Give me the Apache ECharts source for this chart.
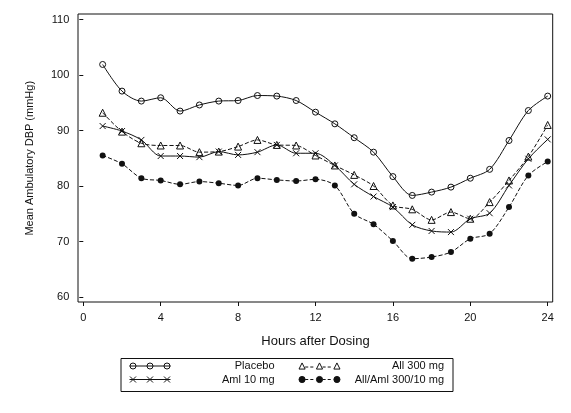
<!DOCTYPE html>
<html style="height: 100%">
<head>
    <meta charset="utf-8">
    <title>Mean Ambulatory DBP</title>
    <script src="https://cdn.jsdelivr.net/npm/echarts@6/dist/echarts.min.js"></script>
</head>
<body style="height: 100%; margin: 0; background: #fff">
<div id="container" style="width: 571px; height: 413px"></div>
<script type="text/javascript">
    // hours after dosing
    var hours = [1, 2, 3, 4, 5, 6, 7, 8, 9, 10, 11, 12, 13, 14, 15, 16, 17, 18, 19, 20, 21, 22, 23, 24];
    // mean DBP per group (mmHg)
    var placebo = [101.9, 97.1, 95.3, 95.9, 93.5, 94.6, 95.3, 95.4, 96.3, 96.2, 95.4, 93.3,
                   91.2, 88.7, 86.1, 81.7, 78.3, 78.9, 79.8, 81.4, 83.0, 88.2, 93.6, 96.2];
    var all300 = [93.2, 89.8, 87.7, 87.3, 87.3, 86.1, 86.2, 87.1, 88.3, 87.4, 87.3, 85.5,
                  83.7, 82.0, 80.0, 76.5, 75.8, 73.9, 75.3, 74.1, 77.1, 81.0, 85.3, 91.0];
    var aml10 = [90.8, 89.9, 88.3, 85.4, 85.4, 85.2, 86.2, 85.6, 86.1, 87.4, 85.9, 85.9,
                 83.7, 80.3, 78.1, 76.2, 73.0, 71.9, 71.7, 74.1, 75.1, 80.1, 84.9, 88.4];
    var combo = [85.5, 84.0, 81.4, 81.0, 80.3, 80.8, 80.5, 80.1, 81.4, 81.1, 80.9, 81.2,
                 80.1, 75.0, 73.1, 70.1, 66.9, 67.2, 68.1, 70.5, 71.4, 76.2, 81.9, 84.4];
    var xTicks = [0, 4, 8, 12, 16, 20, 24];
    var yTicks = [60, 70, 80, 90, 100, 110];

    var font = 'Liberation Sans';
    var ink = '#111';
    var clear = 'rgba(0,0,0,0)';

    function pairs(vals) {
        var out = [];
        for (var i = 0; i < hours.length; i++) {
            out.push([hours[i], vals[i]]);
        }
        return out;
    }

    var xMark = 'path://M0,0L10,10M10,0L0,10';

    // legend samples: line with three markers
    var iconCircle = 'path://M0,4L41,4M6.5,4A3,3,0,1,1,0.5,4A3,3,0,1,1,6.5,4M23.5,4A3,3,0,1,1,17.5,4A3,3,0,1,1,23.5,4M40.5,4A3,3,0,1,1,34.5,4A3,3,0,1,1,40.5,4';
    var iconX = 'path://M0,4L41,4M0.5,1L6.5,7M6.5,1L0.5,7M17.5,1L23.5,7M23.5,1L17.5,7M34.5,1L40.5,7M40.5,1L34.5,7';
    var iconTri = 'path://M0.5,7L3.5,1L6.5,7ZM17.5,7L20.5,1L23.5,7ZM34.5,7L37.5,1L40.5,7ZM6.5,5L9.5,5M11.5,5L14.5,5M23.5,5L26.5,5M28.5,5L31.5,5';
    var iconDot = 'path://M6.5,4A3,3,0,1,1,0.5,4A3,3,0,1,1,6.5,4M23.5,4A3,3,0,1,1,17.5,4A3,3,0,1,1,23.5,4M40.5,4A3,3,0,1,1,34.5,4A3,3,0,1,1,40.5,4M6.5,4L9.5,4M11.5,4L14.5,4M23.5,4L26.5,4M28.5,4L31.5,4';

    function legendRow(top, items) {
        return {
            top: top,
            left: 129,
            padding: 0,
            itemGap: 24,
            itemWidth: 41,
            itemHeight: 8,
            selectedMode: false,
            formatter: '{r|{name}}',
            textStyle: {
                fontFamily: font,
                fontSize: 11,
                color: ink,
                rich: { r: { width: 99, align: 'right', fontFamily: font, fontSize: 11, color: ink } }
            },
            data: items
        };
    }

    function openStyle(icon) {
        return { icon: icon, itemStyle: { color: clear, borderColor: ink, borderWidth: 1 } };
    }

    var myChart = echarts.init(document.getElementById('container'));

    var option = {
        animation: false,
        backgroundColor: '#fff',
        grid: { left: 83.3, right: 23.3, top: 19.5, bottom: 116 },
        xAxis: {
            type: 'value',
            min: 0,
            max: 24,
            interval: 4,
            offset: 5,
            name: 'Hours after Dosing',
            nameLocation: 'middle',
            nameGap: 33,
            nameTextStyle: { fontFamily: font, fontSize: 13, color: ink },
            axisLine: { show: false },
            axisTick: { show: true, length: 4, lineStyle: { color: ink } },
            axisLabel: { margin: 10, fontFamily: font, fontSize: 11, color: ink },
            splitLine: { show: false }
        },
        yAxis: {
            type: 'value',
            min: 60,
            max: 110,
            interval: 10,
            offset: 5,
            name: 'Mean Ambulatory DBP (mmHg)',
            nameLocation: 'middle',
            nameGap: 43,
            nameTextStyle: { fontFamily: font, fontSize: 11, color: ink },
            axisLine: { show: false },
            axisTick: { show: true, length: 4, lineStyle: { color: ink } },
            axisLabel: { margin: 9, fontFamily: font, fontSize: 11, color: ink },
            splitLine: { show: false }
        },
        legend: [
            legendRow(360.5, [
                Object.assign({ name: 'Placebo' }, openStyle(iconCircle)),
                Object.assign({ name: 'All 300 mg' }, openStyle(iconTri))
            ]),
            legendRow(374, [
                Object.assign({ name: 'Aml 10 mg' }, openStyle(iconX)),
                { name: 'All/Aml 300/10 mg', icon: iconDot, itemStyle: { color: ink, borderColor: ink, borderWidth: 1 } }
            ])
        ],
        graphic: [
            {
                type: 'rect',
                silent: true,
                shape: { x: 78, y: 14, width: 474.7, height: 288 },
                style: { fill: null, stroke: ink, lineWidth: 1 }
            },
            {
                type: 'rect',
                silent: true,
                shape: { x: 121, y: 358.5, width: 332, height: 33 },
                style: { fill: null, stroke: ink, lineWidth: 1 }
            }
        ],
        series: [
            {
                name: 'Placebo',
                type: 'line',
                smooth: 0.3,
                data: pairs(placebo),
                symbol: 'circle',
                symbolSize: 6,
                itemStyle: { color: clear, borderColor: ink, borderWidth: 1 },
                lineStyle: { color: ink, width: 1 }
            },
            {
                name: 'All 300 mg',
                type: 'line',
                smooth: 0.3,
                data: pairs(all300),
                symbol: 'triangle',
                symbolSize: 7,
                itemStyle: { color: clear, borderColor: ink, borderWidth: 1 },
                lineStyle: { color: ink, width: 1, type: [4, 2] }
            },
            {
                name: 'Aml 10 mg',
                type: 'line',
                smooth: 0.3,
                data: pairs(aml10),
                symbol: xMark,
                symbolSize: 6,
                itemStyle: { color: clear, borderColor: ink, borderWidth: 1 },
                lineStyle: { color: ink, width: 1 }
            },
            {
                name: 'All/Aml 300/10 mg',
                type: 'line',
                smooth: 0.3,
                data: pairs(combo),
                symbol: 'circle',
                symbolSize: 6,
                itemStyle: { color: ink, borderColor: ink, borderWidth: 0 },
                lineStyle: { color: ink, width: 1, type: [4, 2] }
            }
        ]
    };

    if (option && typeof option === "object") {
        myChart.setOption(option, true);
    }
</script>
</body>
</html>
